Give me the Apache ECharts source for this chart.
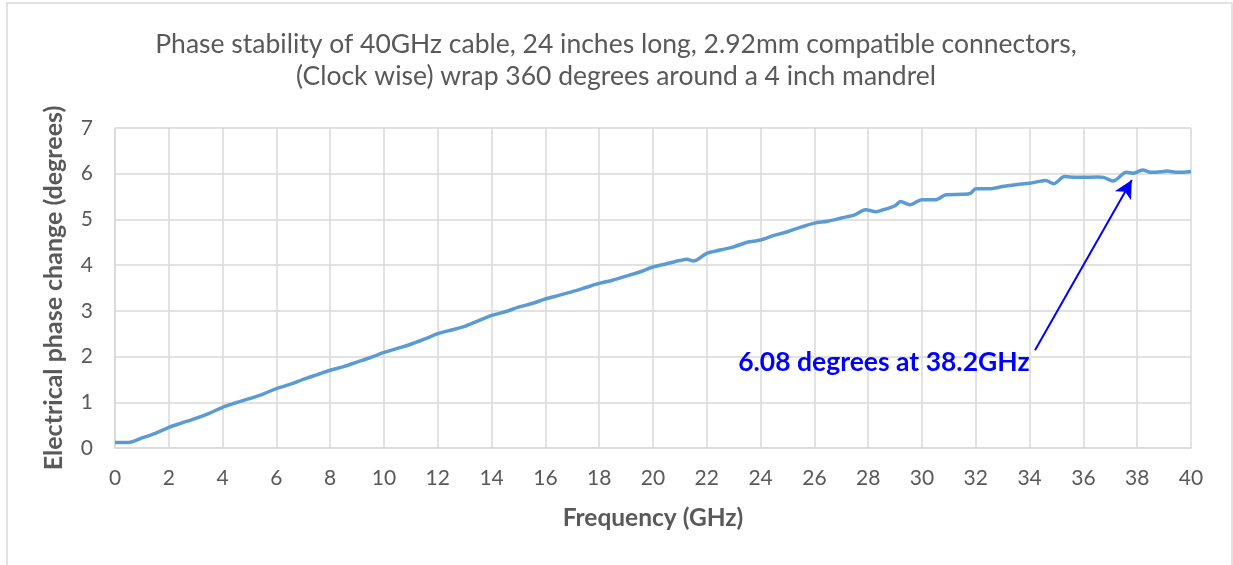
<!DOCTYPE html>
<html>
<head>
<meta charset="utf-8">
<script src="https://cdn.jsdelivr.net/npm/echarts@6/dist/echarts.min.js"></script>
<style>
html,body{margin:0;padding:0;background:#fff;}
#chart{width:1233px;height:565px;}
</style>
</head>
<body>
<div id="chart"></div>
<script>
const titleLines = ["Phase stability of 40GHz cable, 24 inches long, 2.92mm compatible connectors,", "(Clock wise) wrap 360 degrees around a 4 inch mandrel"];
const xAxisName = "Frequency (GHz)";
const yAxisName = "Electrical phase change (degrees)";
const annotationText = "6.08 degrees at 38.2GHz";
const annotationArrowFrom = [34.2, 2.14];
const annotationArrowTo = [37.8, 5.86];

const frequencies = [0,0.5,1,1.5,2,2.5,3,3.5,4,4.5,5,5.5,6,6.5,7,7.5,8,8.5,9,9.5,10,10.5,11,11.5,12,12.5,13,13.5,14,14.5,15,15.5,16,16.5,17,17.5,18,18.5,19,19.5,20,20.5,21,21.25,21.5,22,22.5,23,23.5,24,24.5,25,25.5,26,26.5,27,27.5,27.9,28.3,28.5,29,29.2,29.55,30,30.5,30.9,31.5,31.8,32,32.5,33,33.5,34,34.6,34.9,35.3,35.5,36,36.5,36.75,37.1,37.6,37.86,38.2,38.5,39,39.1,39.5,40];
const phaseChange = [0.12,0.12,0.22,0.32,0.45,0.55,0.65,0.76,0.89,0.99,1.08,1.18,1.30,1.39,1.50,1.60,1.70,1.78,1.88,1.98,2.09,2.18,2.27,2.38,2.50,2.58,2.66,2.78,2.90,2.98,3.08,3.16,3.26,3.34,3.42,3.51,3.60,3.67,3.76,3.85,3.96,4.03,4.10,4.13,4.09,4.26,4.33,4.40,4.50,4.55,4.65,4.73,4.83,4.92,4.96,5.03,5.10,5.21,5.17,5.20,5.30,5.39,5.32,5.43,5.43,5.54,5.55,5.57,5.67,5.67,5.72,5.76,5.79,5.85,5.78,5.94,5.93,5.92,5.93,5.92,5.84,6.03,6.01,6.08,6.03,6.05,6.06,6.03,6.05];

const xTicks = {min: 0, max: 40, interval: 2};
const yTicks = {min: 0, max: 7, interval: 1};

const chart = echarts.init(document.getElementById('chart'), null, {renderer: 'canvas'});
const textColor = '#595959';
const fontFam = 'Lato, "Open Sans", sans-serif';

chart.setOption({
  backgroundColor: '#ffffff',
  animation: false,
  title: {
    text: titleLines.join('\n'),
    left: 611, top: 23, textAlign: 'center',
    textStyle: {fontFamily: fontFam, fontSize: 26.5, fontWeight: 'normal', color: textColor, lineHeight: 32}
  },
  grid: {left: 115, right: 42, top: 128, bottom: 117, containLabel: false},
  xAxis: {
    type: 'value', min: xTicks.min, max: xTicks.max, interval: xTicks.interval,
    name: xAxisName, nameLocation: 'middle', nameGap: 58,
    nameTextStyle: {fontFamily: fontFam, fontSize: 24.5, fontWeight: 'bold', color: textColor},
    axisLine: {show: true, lineStyle: {color: '#D9D9D9', width: 1.5}},
    axisTick: {show: false},
    axisLabel: {fontFamily: fontFam, fontSize: 21, color: textColor, margin: 20},
    splitLine: {show: true, lineStyle: {color: '#D9D9D9', width: 1.5}}
  },
  yAxis: {
    type: 'value', min: yTicks.min, max: yTicks.max, interval: yTicks.interval,
    name: yAxisName, nameLocation: 'middle', nameGap: 49,
    nameTextStyle: {fontFamily: fontFam, fontSize: 25, fontWeight: 'bold', color: textColor},
    axisLine: {show: true, lineStyle: {color: '#D9D9D9', width: 1.5}},
    axisTick: {show: false},
    axisLabel: {fontFamily: fontFam, fontSize: 21, color: textColor, margin: 22},
    splitLine: {show: true, lineStyle: {color: '#D9D9D9', width: 1.5}}
  },
  graphic: [
    {type: 'rect', shape: {x: 7, y: 3, width: 1225, height: 600}, style: {fill: 'none', stroke: '#D9D9D9', lineWidth: 1.5}, silent: true, z: -1}
  ],
  series: [{
    type: 'line',
    data: frequencies.map((f, i) => [f, phaseChange[i]]),
    showSymbol: false,
    smooth: 0.3,
    lineStyle: {color: '#5B9BD5', width: 3.5},
    itemStyle: {color: '#5B9BD5'},
    markLine: {
      silent: true,
      symbol: ['none', 'arrow'],
      symbolSize: [14, 18],
      lineStyle: {color: '#0000FF', width: 2, type: 'solid'},
      label: {show: false},
      data: [[{coord: annotationArrowFrom}, {coord: annotationArrowTo}]]
    },
    markPoint: {
      silent: true,
      symbol: 'circle', symbolSize: 0,
      label: {
        show: true, formatter: annotationText, position: 'left', distance: 0,
        fontFamily: fontFam, fontSize: 26.5, fontWeight: 'bold', color: '#0000FF'
      },
      data: [{coord: [34.0, 1.88]}]
    }
  }]
});
</script>
</body>
</html>
